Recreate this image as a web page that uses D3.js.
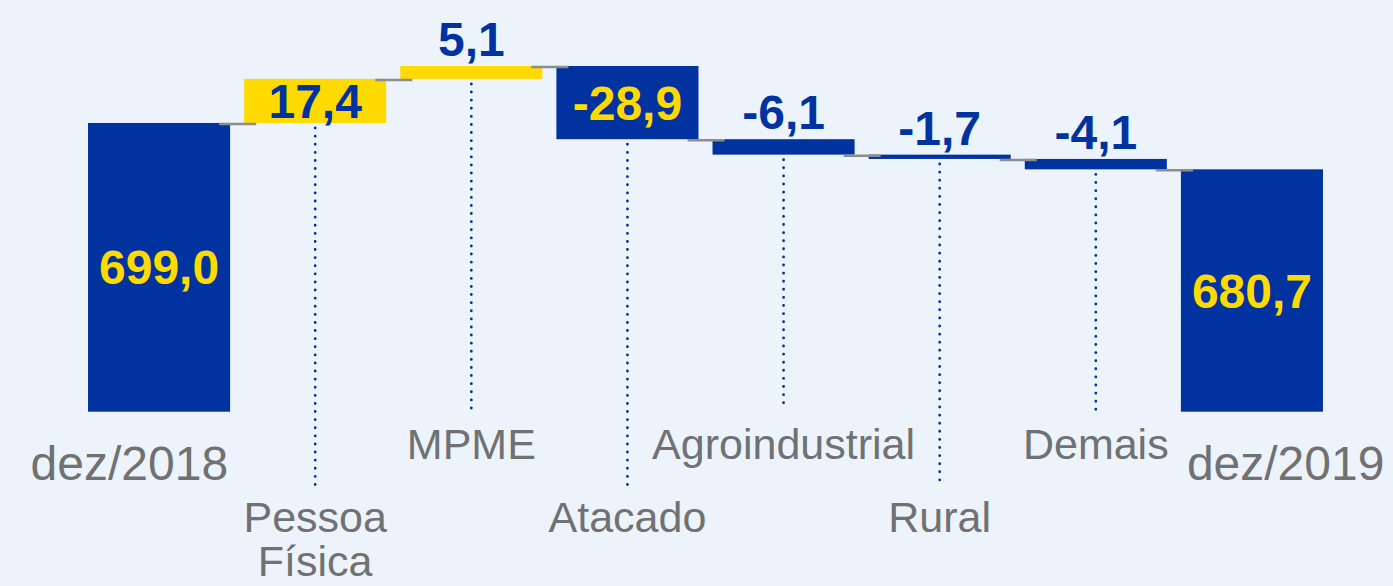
<!DOCTYPE html>
<html>
<head>
<meta charset="utf-8">
<script src="https://cdn.jsdelivr.net/npm/d3@7"></script>
<style>
  body { margin: 0; background: #ecf3fb; }
  svg { display: block; font-family: Arial, "Liberation Sans", sans-serif; }
</style>
</head>
<body>
<div id="chart"></div>
<script>
  // ---- //
 // Data //
// ---- //
var categories = ["dez/2018", "Pessoa Física", "MPME", "Atacado", "Agroindustrial", "Rural", "Demais", "dez/2019"];
var values = [699.0, 17.4, 5.1, -28.9, -6.1, -1.7, -4.1, 680.7];
var valueLabels = ["699,0", "17,4", "5,1", "-28,9", "-6,1", "-1,7", "-4,1", "680,7"];
var isTotal = [true, false, false, false, false, false, false, true];

var svgWidth = 1393;
var svgHeight = 586;

var blue = "#0033a0";
var yellow = "#ffda00";
var grey = "#707173";

var svg = d3.select("#chart")
  .append("svg")
  .attr("width", svgWidth)
  .attr("height", svgHeight);

svg.append("rect")
  .attr("width", svgWidth)
  .attr("height", svgHeight)
  .attr("fill", "#ecf3fb");

// build waterfall steps
var running = 0;
var steps = categories.map(function(c, i) {
  var start, end;
  if (isTotal[i]) {
    start = null;
    end = values[i];
  } else {
    start = running;
    end = running + values[i];
  }
  running = end;
  return { cat: c, value: values[i], label: valueLabels[i], total: isTotal[i], start: start, end: end, i: i };
});

// scales (value axis is broken, base is not zero)
var x = d3.scaleBand()
  .domain(categories)
  .range([81, 1330])
  .paddingInner(0.09)
  .paddingOuter(0.045);

var y = d3.scaleLinear()
  .domain([585, 721.5])
  .range([411.7, 66]);

var base = y.domain()[0];
var bw = x.bandwidth();

function barTop(d) { return d.total ? y(d.end) : y(Math.max(d.start, d.end)); }
function barBottom(d) { return d.total ? y(base) : y(Math.min(d.start, d.end)); }

// dotted guide lines
var guides = steps.filter(d => !d.total);
svg.selectAll("line.guide")
  .data(guides)
  .enter()
  .append("line")
  .attr("x1", d => x(d.cat) + bw / 2)
  .attr("x2", d => x(d.cat) + bw / 2)
  .attr("y1", d => barBottom(d) + 5)
  .attr("y2", d => d.i % 2 === 1 ? 486 : 410)
  .attr("stroke", blue)
  .attr("stroke-width", 2.8)
  .attr("stroke-linecap", "round")
  .attr("stroke-dasharray", "0.1 8");

// bars
svg.selectAll("rect.bar")
  .data(steps)
  .enter()
  .append("rect")
  .attr("x", d => x(d.cat))
  .attr("y", d => barTop(d))
  .attr("width", bw)
  .attr("height", d => barBottom(d) - barTop(d))
  .attr("fill", d => (!d.total && d.value > 0) ? yellow : blue);

// connectors
svg.selectAll("line.conn")
  .data(steps.slice(0, -1))
  .enter()
  .append("line")
  .attr("x1", d => x(d.cat) + bw - 11)
  .attr("x2", d => x(categories[d.i + 1]) + 12)
  .attr("y1", d => y(d.end) + 1)
  .attr("y2", d => y(d.end) + 1)
  .attr("stroke", "#8d8d8f")
  .attr("stroke-width", 2.5);

// value labels: inside tall bars, above short ones
svg.selectAll("text.value")
  .data(steps)
  .enter()
  .append("text")
  .attr("x", d => x(d.cat) + bw / 2)
  .attr("y", function(d) {
    var h = barBottom(d) - barTop(d);
    return h > 35 ? (barTop(d) + barBottom(d)) / 2 + 17 : barTop(d) - 10;
  })
  .attr("text-anchor", "middle")
  .attr("font-size", 48)
  .attr("font-weight", "bold")
  .attr("fill", function(d) {
    var h = barBottom(d) - barTop(d);
    if (h <= 35) return blue;
    return (!d.total && d.value > 0) ? blue : yellow;
  })
  .text(d => d.label);

// category labels
steps.forEach(function(d) {
  var cx = x(d.cat) + bw / 2;
  if (d.total) {
    svg.append("text")
      .attr("x", d.i === 0 ? x(d.cat) + bw - 2 : x(d.cat) + 6)
      .attr("y", 480)
      .attr("text-anchor", d.i === 0 ? "end" : "start")
      .attr("font-size", 48)
      .attr("fill", grey)
      .text(d.cat);
    return;
  }
  var lines = d.cat === "Pessoa Física" ? ["Pessoa", "Física"] : [d.cat];
  var y0 = d.i % 2 === 1 ? 532 : 459;
  var t = svg.append("text")
    .attr("text-anchor", "middle")
    .attr("font-size", 43)
    .attr("fill", grey);
  lines.forEach(function(l, k) {
    t.append("tspan")
      .attr("x", cx)
      .attr("y", y0 + k * 44)
      .text(l);
  });
});
</script>
</body>
</html>
